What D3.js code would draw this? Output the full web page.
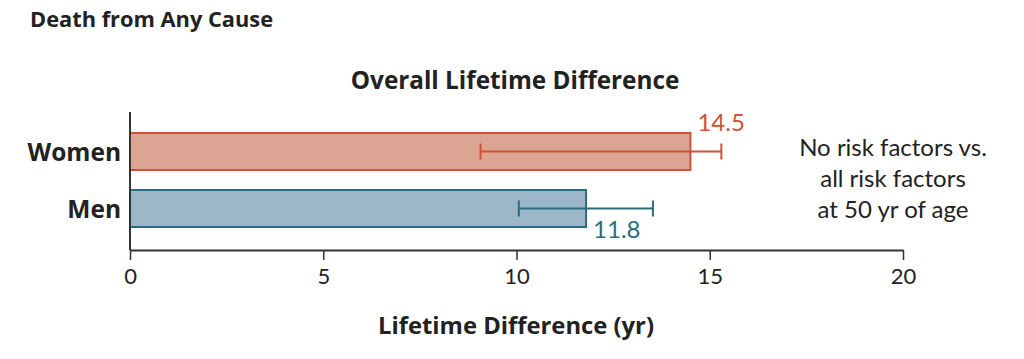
<!DOCTYPE html>
<html><head><meta charset="utf-8">
<script src="https://cdn.jsdelivr.net/npm/d3@7"></script>
<style>body{margin:0;background:#fff}svg{display:block}</style>
</head><body>
<script>
const categories = ["Women", "Men"];
const values = [14.5, 11.8];
const lower = [9.07, 10.06];
const upper = [15.3, 13.53];
const valueLabels = ["14.5", "11.8"];
const xTicks = [0, 5, 10, 15, 20];
const fills = ["#dca593", "#9cb7c8"];
const strokes = ["#cf5236", "#2b6d80"];

const W = 1024, H = 359;
const font = "Lato, 'Open Sans', sans-serif";
const bfont = "'Open Sans', Lato, sans-serif";
const svg = d3.select("body").append("svg").attr("width", W).attr("height", H);

const x = d3.scaleLinear().domain([0, 20]).range([130, 903]);
const y = d3.scaleBand().domain(categories).range([123, 237]).paddingInner(0.35).paddingOuter(0.175);

svg.append("text").attr("x", 30).attr("y", 27).text("Death from Any Cause")
  .attr("font-family", bfont).attr("font-weight", 700).attr("font-size", 21.8).attr("fill", "#222");
svg.append("text").attr("x", 515).attr("y", 89).attr("text-anchor", "middle").text("Overall Lifetime Difference")
  .attr("font-family", bfont).attr("font-weight", 700).attr("font-size", 24.3).attr("fill", "#222");

// bars
svg.selectAll("rect.bar").data(categories).join("rect")
  .attr("x", x(0)).attr("y", d => y(d)).attr("width", (d, i) => x(values[i]) - x(0)).attr("height", y.bandwidth())
  .attr("fill", (d, i) => fills[i]).attr("stroke", (d, i) => strokes[i]).attr("stroke-width", 2);

// error bars
const eb = svg.selectAll("g.eb").data(categories).join("g")
  .attr("stroke", (d, i) => strokes[i]).attr("stroke-width", 2);
eb.append("line").attr("x1", (d, i) => x(lower[i])).attr("x2", (d, i) => x(upper[i]))
  .attr("y1", d => y(d) + y.bandwidth() / 2).attr("y2", d => y(d) + y.bandwidth() / 2);
eb.append("line").attr("x1", (d, i) => x(lower[i])).attr("x2", (d, i) => x(lower[i]))
  .attr("y1", d => y(d) + y.bandwidth() / 2 - 8).attr("y2", d => y(d) + y.bandwidth() / 2 + 8);
eb.append("line").attr("x1", (d, i) => x(upper[i])).attr("x2", (d, i) => x(upper[i]))
  .attr("y1", d => y(d) + y.bandwidth() / 2 - 8).attr("y2", d => y(d) + y.bandwidth() / 2 + 8);

// value labels
svg.selectAll("text.vl").data(categories).join("text")
  .attr("x", (d, i) => x(values[i]) + 7)
  .attr("y", (d, i) => i === 0 ? y(d) - 2 : y(d) + y.bandwidth() + 11)
  .text((d, i) => valueLabels[i])
  .attr("font-family", font).attr("font-size", 24).attr("fill", (d, i) => strokes[i]);

// category labels
svg.selectAll("text.cat").data(categories).join("text")
  .attr("x", 121).attr("y", d => y(d) + y.bandwidth() / 2 + 9).attr("text-anchor", "end").text(d => d)
  .attr("font-family", bfont).attr("font-weight", 700).attr("font-size", 24.5).attr("fill", "#222");

// y axis line
svg.append("line").attr("x1", x(0)).attr("x2", x(0)).attr("y1", 112).attr("y2", 250)
  .attr("stroke", "#333").attr("stroke-width", 2);

// x axis
const xa = svg.append("g").attr("transform", "translate(0,250)")
  .call(d3.axisBottom(x).tickValues(xTicks).tickSize(10).tickSizeOuter(0).tickPadding(8));
xa.select(".domain").attr("stroke", "#333").attr("stroke-width", 2);
xa.selectAll(".tick line").attr("stroke", "#333").attr("stroke-width", 1.5);
xa.selectAll(".tick text").attr("font-family", font).attr("font-size", 22).attr("fill", "#222");

svg.append("text").attr("x", 516).attr("y", 334).attr("text-anchor", "middle").text("Lifetime Difference (yr)")
  .attr("font-family", bfont).attr("font-weight", 700).attr("font-size", 23.8).attr("fill", "#222");

// annotation
const ann = ["No risk factors vs.", "all risk factors", "at 50 yr of age"];
svg.append("text").attr("text-anchor", "middle").attr("font-family", font).attr("font-size", 24).attr("fill", "#222")
  .selectAll("tspan").data(ann).join("tspan").attr("x", 893).attr("y", (d, i) => 156 + i * 31).text(d => d);
</script>
</body></html>
